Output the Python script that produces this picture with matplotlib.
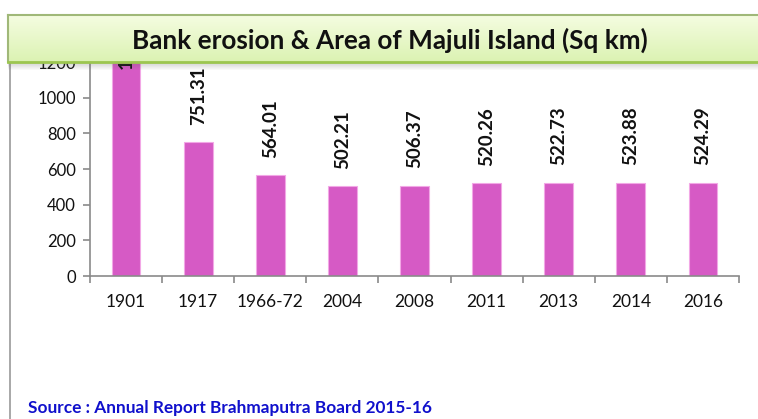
import matplotlib
matplotlib.use("Agg")
import matplotlib.pyplot as plt
import numpy as np
from matplotlib.patches import Rectangle

categories = ["1901", "1917", "1966-72", "2004", "2008", "2011", "2013", "2014", "2016"]
values = [1245.0, 751.31, 564.01, 502.21, 506.37, 520.26, 522.73, 523.88, 524.29]
labels = ["1245", "751.31", "564.01", "502.21", "506.37", "520.26", "522.73", "523.88", "524.29"]
yticks = [0, 200, 400, 600, 800, 1000, 1200]
title = "Bank erosion & Area of Majuli Island (Sq km)"
source = "Source : Annual Report Brahmaputra Board 2015-16"

W, H = 758, 419
fig = plt.figure(figsize=(W / 100, H / 100), dpi=100)
plt.rcParams['font.family'] = ['Lato', 'DejaVu Sans']

# outer chart border (left edge)
fig.add_artist(plt.Line2D([10 / W, 10 / W], [0, 1 - 15 / H], transform=fig.transFigure,
                          color="#9a9a9a", lw=1.2))

ax = fig.add_axes([90 / W, 1 - 276 / H, (739 - 90) / W, (276 - 62) / H])
x = np.arange(len(categories))
ymax = 1200
ax.bar(x, values, width=0.4, color="#D65AC5", edgecolor="#F2A8E6", linewidth=0.8, zorder=2)
ax.set_xlim(-0.5, len(categories) - 0.5)
ax.set_ylim(0, ymax)

for xi, v, lab in zip(x, values, labels):
    if v > ymax:
        ax.annotate(lab, xy=(xi, ymax), xytext=(0, -5), textcoords="offset points",
                    rotation=90, ha="center", va="bottom", fontsize=13.5,
                    fontweight="bold", color="#111111", zorder=3)
    else:
        ax.annotate(lab, xy=(xi, v), xytext=(0, 12.5), textcoords="offset points",
                    rotation=90, ha="center", va="bottom", fontsize=13.5,
                    fontweight="bold", color="#111111", zorder=3)

for s in ["top", "right"]:
    ax.spines[s].set_visible(False)
for s in ["left", "bottom"]:
    ax.spines[s].set_color("#8a8a8a")
    ax.spines[s].set_linewidth(1.2)

ax.set_yticks(yticks)
ax.set_yticklabels([str(t) for t in yticks], fontsize=12, color="#111111")
ax.tick_params(axis="y", direction="out", length=5, color="#8a8a8a", width=1.2, pad=5)

ax.set_xticks(np.arange(len(categories) + 1) - 0.5)
ax.set_xticklabels([])
ax.tick_params(axis="x", which="major", direction="out", length=5, color="#8a8a8a", width=1.2)
ax.set_xticks(x, minor=True)
ax.set_xticklabels(categories, minor=True, fontsize=12.5, color="#111111")
ax.tick_params(axis="x", which="minor", length=0, pad=13)

# title box shadow
for i in range(8):
    fig.add_artist(Rectangle((8 / W, 1 - (62 + i + 1) / H), 1, 1 / H,
                             transform=fig.transFigure, facecolor="#606060",
                             alpha=0.28 * (1 - i / 8), edgecolor="none", zorder=9))

# title box with gradient
tax = fig.add_axes([8 / W, 1 - 62 / H, 1 - 8 / W + 0.01, (62 - 15) / H], zorder=10)
grad = np.linspace(0, 1, 64).reshape(-1, 1)
top_c = np.array([0.96, 0.99, 0.88])
bot_c = np.array([0.86, 0.95, 0.70])
img = top_c[None, None, :] * (1 - grad[:, :, None]) + bot_c[None, None, :] * grad[:, :, None]
tax.imshow(img, aspect="auto", extent=[0, 1, 0, 1], origin="upper")
tax.set_xlim(0, 1)
tax.set_ylim(0, 1)
tax.set_xticks([])
tax.set_yticks([])
for s in ["top", "left"]:
    tax.spines[s].set_color("#a0b878")
    tax.spines[s].set_linewidth(1.5)
tax.spines["bottom"].set_color("#9CC650")
tax.spines["bottom"].set_linewidth(2)
tax.spines["right"].set_visible(False)
fig.text(390 / W, 1 - 40 / H, title, ha="center", va="center", fontsize=18.8,
         fontweight="bold", color="#111111", zorder=11)

fig.text(28 / W, 1 - 408 / H, source, ha="left", va="center", fontsize=12.4,
         fontweight="bold", color="#1010CC")

fig.savefig("out.png", dpi=100)
